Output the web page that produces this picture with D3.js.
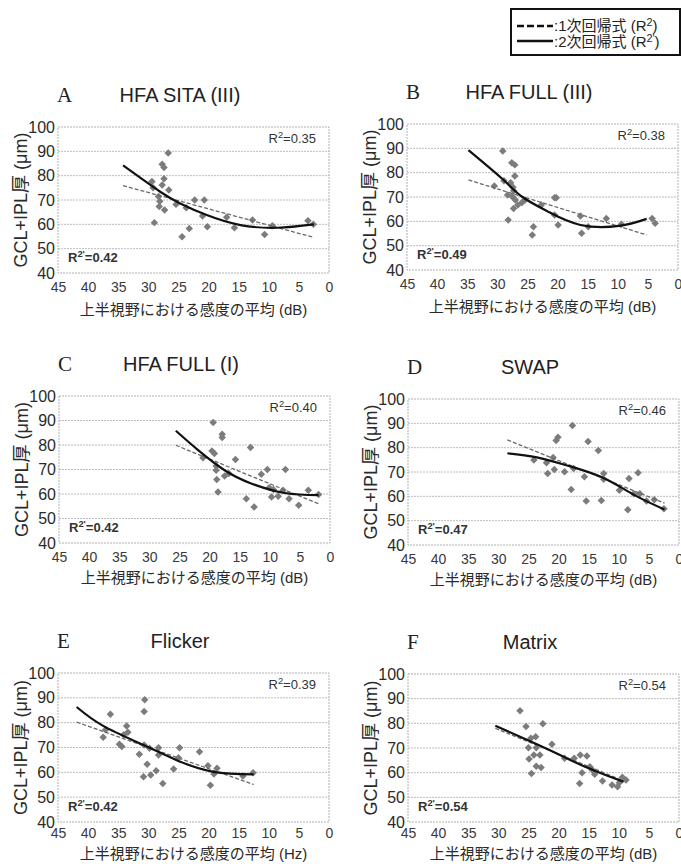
<!DOCTYPE html>
<html>
<head>
<meta charset="utf-8">
<script src="https://cdn.jsdelivr.net/npm/d3@7"></script>
<style>
body { margin: 0; background: #fff; }
</style>
</head>
<body>
<script>
// panel labels and texts
var panelLetters = ['A', 'B', 'C', 'D', 'E', 'F'];
var panelTitles = ['HFA SITA (III)', 'HFA FULL (III)', 'HFA FULL (I)', 'SWAP', 'Flicker', 'Matrix'];
var xUnits = ['dB', 'dB', 'dB', 'dB', 'Hz', 'dB'];
var r2Linear = ['0.35', '0.38', '0.40', '0.46', '0.39', '0.54'];
var r2Quad = ['0.42', '0.49', '0.42', '0.47', '0.42', '0.54'];
var xTicks = [45, 40, 35, 30, 25, 20, 15, 10, 5, 0];
var yTicks = [40, 50, 60, 70, 80, 90, 100];

// scatter points [sensitivity, thickness]
var pointsA = [[29.4, 77.6], [29.2, 75], [29, 60.7], [28.3, 71.4], [28.1, 69.5], [28.2, 67.3], [27.7, 84.7],
  [27.4, 83.4], [27.4, 78.7], [27.7, 76.2], [27.3, 65.9], [26.7, 89.3], [26.6, 74.1], [25.4, 68.2],
  [24.4, 54.9], [23.2, 58.3], [23.7, 66.8], [22.3, 70], [20.7, 70], [21, 63.4], [20.2, 59],
  [17, 62.9], [15.7, 58.6], [12.7, 61.8], [10.7, 55.8], [9.4, 59.4], [3.5, 61.5], [2.6, 60]];
var pointsB = [[30.5, 74.5], [29.1, 88.9], [28.9, 76.7], [28.3, 70.8], [28.2, 60.5], [27.8, 75.9], [27.6, 84.1],
  [27.1, 83.2], [27.1, 78.6], [27.4, 74], [27.3, 72.6], [27.5, 70.1], [27, 68.8], [27.3, 65.3],
  [26.6, 66.7], [25.9, 67.7], [25.4, 68.8], [24, 57.8], [24.2, 54.4], [22.7, 66.7], [20.5, 69.7],
  [20.2, 69.7], [20.5, 62.6], [19.9, 58.5], [16.2, 62.2], [16, 55.1], [14.9, 57.8], [11.9, 61.2],
  [9.4, 58.8], [4.3, 61.2], [3.8, 59.2]];
var pointsC = [[21.1, 74.8], [19.4, 89.2], [19.6, 77.6], [19.2, 76.5], [18.9, 71.4], [18.9, 69.7], [18.8, 65.9],
  [18.6, 60.8], [17.9, 84.4], [17.9, 83.1], [17.5, 67.3], [16.8, 68.4], [15.7, 74.1], [13.9, 58.1],
  [13.2, 79], [12.6, 54.7], [11.4, 68.1], [10.4, 70], [10.1, 62.6], [9.7, 58.8], [9.4, 61.8],
  [8.6, 59.1], [7.8, 61.5], [7.4, 70], [6.8, 58.1], [5.2, 55.4], [3.6, 61.5], [1.9, 59.8]];
var pointsD = [[24.1, 74.9], [22, 73.8], [21.8, 69.4], [20.9, 76], [20.7, 71], [20.4, 82.9], [20.1, 84.3],
  [19, 70.1], [17.9, 62.8], [17.7, 89.1], [17.5, 71.4], [15.7, 68], [15.4, 58.1], [15.1, 82.5],
  [13.4, 78.8], [12.9, 58.3], [12.5, 69.4], [12.5, 67], [9.9, 62.5], [8.5, 54.5], [8.3, 67.3],
  [7.5, 61.1], [6.8, 69.7], [6.5, 61.1], [5.4, 58.1], [4.1, 58.6], [2.5, 54.9]];
var pointsE = [[37.5, 74.1], [37.1, 77.1], [36.3, 83.4], [34.8, 71.3], [34.4, 70.4], [34.1, 75.1], [33.6, 78.7],
  [33.4, 76.1], [31.5, 67.3], [30.8, 58.2], [30.7, 84.5], [30.6, 89.2], [30.7, 71], [30.2, 63.3],
  [29.8, 69.7], [29.6, 58.9], [28.7, 60.6], [28.3, 69.9], [28.3, 67], [27.6, 55.5], [25.8, 61.3],
  [24.8, 69.9], [25, 65.9], [21.5, 68.3], [20.1, 62.7], [19.7, 54.8], [19.1, 59.3], [18.6, 61.6],
  [14.3, 58.5], [12.6, 59.8]];
var pointsF = [[26.4, 85.1], [25.4, 78.7], [25, 70.1], [24.9, 65.5], [24.6, 74], [24.5, 59.7], [24.1, 67.2],
  [23.8, 74.6], [23.7, 70.1], [23.7, 62.6], [23.1, 67.2], [22.9, 62.1], [22.6, 79.8], [21.1, 71.5],
  [19, 65.8], [17.4, 65.8], [16.5, 55.6], [16.4, 67.2], [16.1, 60], [15.3, 66.8], [14.8, 62.4],
  [14.4, 61.1], [14, 59.4], [12.7, 56.6], [11.1, 55], [10.2, 54.3], [9.4, 58.1], [9.9, 55.9], [8.8, 57]];

// regression lines
var linearA = [[34.2, 75.9], [2.5, 54.6]];
var linearB = [[34.8, 77], [5.2, 54.4]];
var linearC = [[25.6, 79.9], [1.9, 56]];
var linearD = [[28.5, 83.2], [2.4, 57.2]];
var linearE = [[41.9, 80.2], [12.5, 55.1]];
var linearF = [[30.5, 78], [9.2, 56.7]];

var quadA = [[34.2, 84.2], [28.1, 73.5], [24.7, 68.6], [20.3, 63.8], [14.7, 59.7], [8.6, 58.6], [2.5, 60]];
var quadB = [[34.8, 89.3], [29.1, 77.3], [25.9, 70.1], [21.6, 64], [16.2, 58.5], [9.8, 58.1], [5.2, 61]];
var quadC = [[25.6, 85.8], [21.9, 77.9], [17.5, 69.7], [13.1, 64.3], [7.5, 60.4], [1.9, 59.5]];
var quadD = [[28.5, 77.7], [23.6, 76], [18.2, 72.4], [12.7, 67.7], [7.3, 60.4], [2.4, 54.6]];
var quadE = [[41.9, 86.3], [37.5, 78.7], [30.8, 71], [25.3, 64.9], [19.2, 60.2], [12.5, 59.2]];
var quadF = [[30.5, 79], [26.2, 74.4], [20.9, 68.5], [15.6, 62.4], [9.2, 56.3]];

var allPoints = [pointsA, pointsB, pointsC, pointsD, pointsE, pointsF];
var allLinear = [linearA, linearB, linearC, linearD, linearE, linearF];
var allQuad = [quadA, quadB, quadC, quadD, quadE, quadF];

// plot area of each panel (tick / axis-title offsets below the frame)
var boxes = [
  {x0: 58, x1: 329, y0: 127, y1: 273, tickPad: 9, titleGap: 42},
  {x0: 407, x1: 678, y0: 124, y1: 270, tickPad: 9, titleGap: 42},
  {x0: 59, x1: 330, y0: 396, y1: 543, tickPad: 9, titleGap: 40},
  {x0: 408, x1: 679, y0: 399, y1: 545, tickPad: 9, titleGap: 40},
  {x0: 58, x1: 329, y0: 673, y1: 822, tickPad: 6, titleGap: 37},
  {x0: 408, x1: 679, y0: 674, y1: 822, tickPad: 6, titleGap: 37}
];

var sans = '"Liberation Sans", Arial, "Noto Sans CJK JP", sans-serif';
var svg = d3.select('body').append('svg')
  .attr('width', 681)
  .attr('height', 864)
  .style('font-family', sans);

function rSquared(sel, prime, tail) {
  sel.append('tspan').text('R');
  sel.append('tspan').attr('dy', -5).attr('font-size', '0.72em').text(prime ? "2'" : '2');
  sel.append('tspan').attr('dy', 5).text(tail);
}

boxes.forEach(function(b, i) {
  var x = d3.scaleLinear().domain([45, 0]).range([b.x0, b.x1]);
  var y = d3.scaleLinear().domain([40, 100]).range([b.y1, b.y0]);
  var g = svg.append('g');

  // grid + frame
  g.selectAll('.grid').data(yTicks.slice(1, -1)).enter().append('line')
    .attr('class', 'grid')
    .attr('x1', b.x0).attr('x2', b.x1)
    .attr('y1', function(d) { return y(d); })
    .attr('y2', function(d) { return y(d); })
    .attr('stroke', '#bcbcbc')
    .attr('stroke-dasharray', '2,1');
  g.append('rect')
    .attr('x', b.x0).attr('y', b.y0)
    .attr('width', b.x1 - b.x0).attr('height', b.y1 - b.y0)
    .attr('fill', 'none')
    .attr('stroke', '#b0b0b0')
    .attr('stroke-dasharray', '2,1');

  // axes
  var xa = g.append('g')
    .attr('transform', 'translate(0,' + b.y1 + ')')
    .call(d3.axisBottom(x).tickValues(xTicks).tickSize(0).tickPadding(b.tickPad));
  xa.select('.domain').remove();
  xa.attr('font-size', 14).attr('font-family', sans);
  xa.selectAll('text').attr('fill', '#3a3a3a');

  var ya = g.append('g')
    .attr('transform', 'translate(' + b.x0 + ',0)')
    .call(d3.axisLeft(y).tickValues(yTicks).tickSize(0).tickPadding(3));
  ya.select('.domain').remove();
  ya.attr('font-size', 16).attr('font-family', sans);
  ya.selectAll('text').attr('fill', '#2a2a2a');

  // axis titles
  g.append('text')
    .attr('x', (b.x0 + b.x1) / 2)
    .attr('y', b.y1 + b.titleGap)
    .attr('text-anchor', 'middle')
    .attr('font-size', 15)
    .attr('fill', '#2a2a2a')
    .text('上半視野における感度の平均 (' + xUnits[i] + ')');
  g.append('text')
    .attr('transform', 'translate(' + (b.x0 - 37) + ',' + ((b.y0 + b.y1) / 2) + ') rotate(-90)')
    .attr('text-anchor', 'middle')
    .attr('dy', '0.35em')
    .attr('font-size', 18)
    .attr('fill', '#2a2a2a')
    .text('GCL+IPL厚 (μm)');

  // panel letter and title
  g.append('text')
    .attr('x', b.x0 - 1)
    .attr('y', b.y0 - 25)
    .attr('font-family', '"Liberation Serif", "Times New Roman", serif')
    .attr('font-size', 21)
    .attr('fill', '#222')
    .text(panelLetters[i]);
  g.append('text')
    .attr('x', b.x0 + 122)
    .attr('y', b.y0 - 25)
    .attr('text-anchor', 'middle')
    .attr('font-size', 20)
    .attr('fill', '#222')
    .text(panelTitles[i]);

  // points
  g.selectAll('.pt').data(allPoints[i]).enter().append('path')
    .attr('class', 'pt')
    .attr('d', d3.symbol().type(d3.symbolSquare).size(28))
    .attr('transform', function(d) { return 'translate(' + x(d[0]) + ',' + y(d[1]) + ') rotate(45)'; })
    .attr('fill', '#7c7c7c');

  // regression lines
  var line = d3.line()
    .x(function(d) { return x(d[0]); })
    .y(function(d) { return y(d[1]); });
  g.append('path')
    .attr('d', line(allLinear[i]))
    .attr('fill', 'none')
    .attr('stroke', '#6a6a6a')
    .attr('stroke-width', 1.3)
    .attr('stroke-dasharray', '4,2');
  g.append('path')
    .attr('d', line.curve(d3.curveNatural)(allQuad[i]))
    .attr('fill', 'none')
    .attr('stroke', '#111')
    .attr('stroke-width', 2.2);

  // R2 labels
  g.append('text')
    .attr('x', b.x1 - 13)
    .attr('y', b.y0 + 16)
    .attr('text-anchor', 'end')
    .attr('font-size', 13)
    .attr('fill', '#333')
    .call(rSquared, false, '=' + r2Linear[i]);
  g.append('text')
    .attr('x', b.x0 + 10)
    .attr('y', b.y1 - 11)
    .attr('font-size', 13)
    .attr('font-weight', 'bold')
    .attr('fill', '#333')
    .call(rSquared, true, '=' + r2Quad[i]);
});

// legend
var lg = svg.append('g');
lg.append('rect')
  .attr('x', 511).attr('y', 9)
  .attr('width', 169).attr('height', 46)
  .attr('fill', '#fff')
  .attr('stroke', '#111')
  .attr('stroke-width', 2);
lg.append('line')
  .attr('x1', 517).attr('x2', 553).attr('y1', 26).attr('y2', 26)
  .attr('stroke', '#111').attr('stroke-width', 2.5)
  .attr('stroke-dasharray', '7,3');
lg.append('line')
  .attr('x1', 517).attr('x2', 553).attr('y1', 41).attr('y2', 41)
  .attr('stroke', '#111').attr('stroke-width', 2.5);
lg.append('text')
  .attr('x', 554).attr('y', 31)
  .attr('font-size', 15).attr('fill', '#222')
  .call(rSquared, false, ')')
  .insert('tspan', ':first-child').text(':1次回帰式 (');
lg.append('text')
  .attr('x', 554).attr('y', 47)
  .attr('font-size', 15).attr('fill', '#222')
  .call(rSquared, true, ')')
  .insert('tspan', ':first-child').text(':2次回帰式 (');
</script>
</body>
</html>
